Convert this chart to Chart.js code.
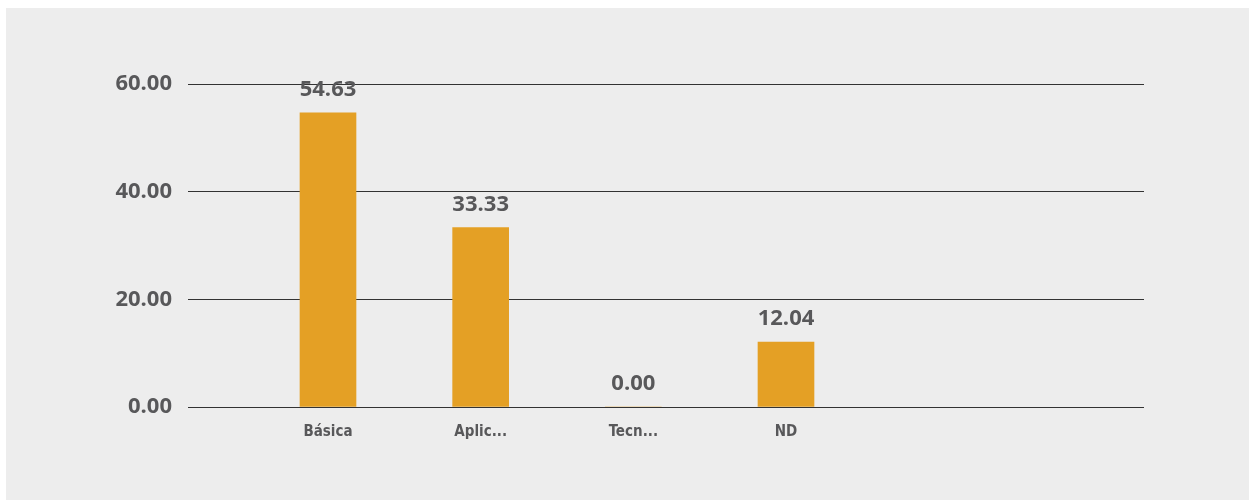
<!DOCTYPE html>
<html>
<head>
<meta charset="utf-8">
<script src="https://cdn.jsdelivr.net/npm/chart.js@4"></script>
<style>
  html, body { margin: 0; padding: 0; background: #ffffff; }
  #box { position: absolute; left: 6px; top: 8px; width: 1243px; height: 492px; background: #ededed; }
  #chart { display: block; }
</style>
</head>
<body>
<div id="box"><canvas id="chart" width="1243" height="492"></canvas></div>
<script>
const categories = ['Básica', 'Aplic...', 'Tecn...', 'ND'];
const values = [54.63, 33.33, 0.00, 12.04];
const yTicks = [0, 20, 40, 60];

const textColor = '#58585a';
const numFont = { family: '"Open Sans", sans-serif', size: 22, weight: 'bold' };

// draws the value above each bar
const valueLabels = {
    id: 'valueLabels',
    afterDatasetsDraw(chart) {
        const ctx = chart.ctx;
        const meta = chart.getDatasetMeta(0);
        ctx.save();
        ctx.font = 'bold 22px "Open Sans", sans-serif';
        ctx.fillStyle = textColor;
        ctx.textAlign = 'center';
        ctx.textBaseline = 'bottom';
        meta.data.forEach((bar, i) => {
            ctx.fillText(values[i].toFixed(2), bar.x, bar.y - 12);
        });
        ctx.restore();
    }
};

new Chart(document.getElementById('chart'), {
    type: 'bar',
    data: {
        datasets: [{
            data: values.map((v, i) => ({ x: i, y: v })),
            backgroundColor: '#e4a025',
            barThickness: 56
        }]
    },
    options: {
        responsive: false,
        animation: false,
        devicePixelRatio: 1,
        layout: { padding: { left: 0, right: 105, top: 76, bottom: 0 } },
        plugins: { legend: { display: false }, tooltip: { enabled: false } },
        scales: {
            x: {
                type: 'linear',
                offset: false,
                min: -0.917,
                max: 5.345,
                grid: { display: false, drawTicks: false, offset: false },
                border: { display: false },
                afterBuildTicks(scale) {
                    scale.ticks = categories.map((c, i) => ({ value: i }));
                },
                afterFit(scale) { scale.height = 93; },
                ticks: {
                    autoSkip: false,
                    maxRotation: 0,
                    padding: 16,
                    color: textColor,
                    font: { family: '"DejaVu Sans Condensed", sans-serif', size: 15, weight: 'bold' },
                    callback: (v) => categories[v]
                }
            },
            y: {
                min: 0,
                max: 60,
                afterBuildTicks(scale) {
                    scale.ticks = yTicks.map(v => ({ value: v }));
                },
                afterFit(scale) { scale.width = 182; },
                grid: { color: '#333333', lineWidth: 1, drawTicks: false },
                border: { display: false },
                ticks: {
                    padding: 16,
                    color: textColor,
                    font: numFont,
                    callback: (v) => v.toFixed(2)
                }
            }
        }
    },
    plugins: [valueLabels]
});
</script>
</body>
</html>
